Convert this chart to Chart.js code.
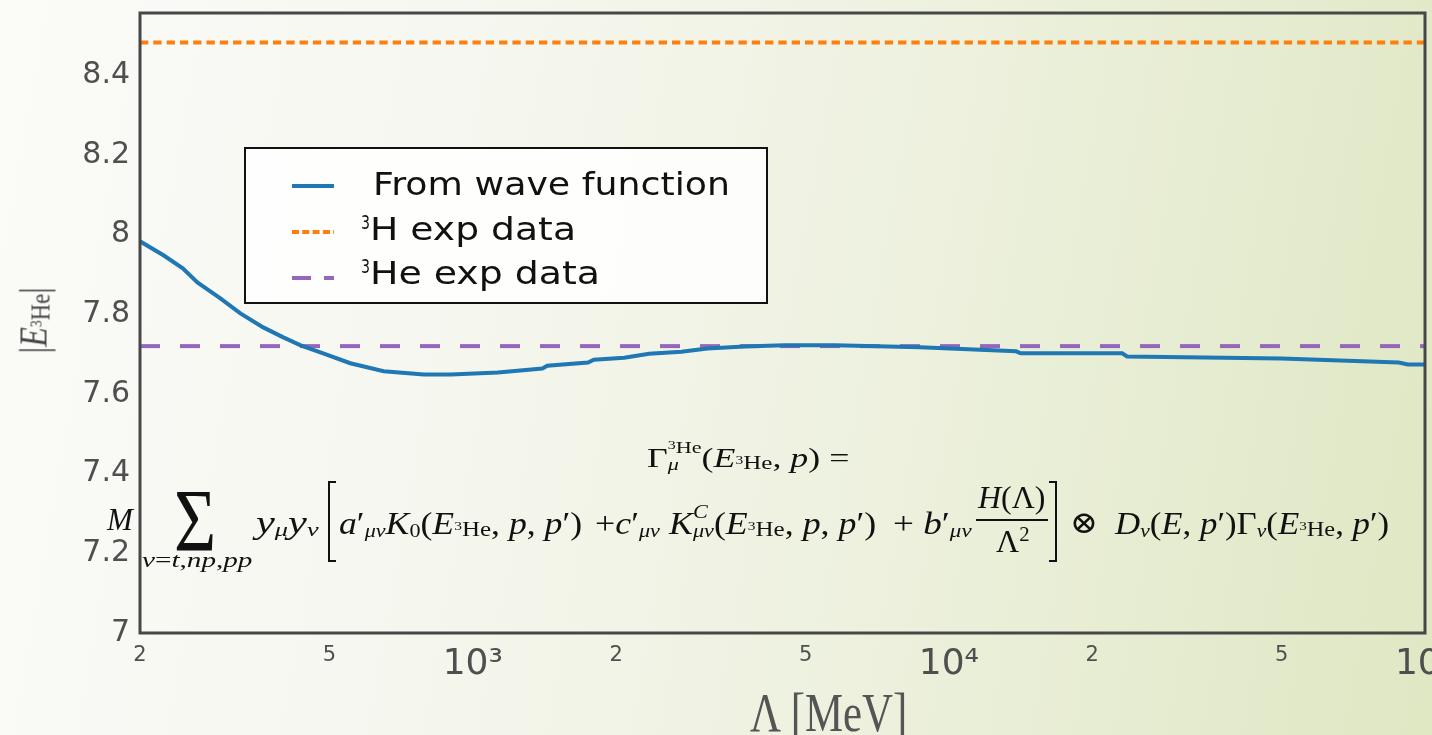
<!DOCTYPE html>
<html><head><meta charset="utf-8">
<script src="https://cdn.jsdelivr.net/npm/chart.js@4.4.1/dist/chart.umd.min.js"></script>
<style>
html,body{margin:0;padding:0;width:1432px;height:735px;overflow:hidden;}
body{position:relative;background:linear-gradient(100deg,#fbfbf8 0%,#f6f7f0 30%,#edf1de 62%,#dfe7c3 100%);}
#wrap{position:absolute;left:0;top:0;width:1480px;height:760px;}
.blk{position:absolute;left:0;top:0;white-space:nowrap;line-height:1;transform-origin:0 0;font-family:'Liberation Serif','DejaVu Serif',serif;color:#111;z-index:5;}
.mk{display:inline-block;width:0;height:0;vertical-align:baseline;}
.sb{font-size:0.62em;vertical-align:-0.16em;}
.E3{font-size:0.7em;vertical-align:-0.1em;}
.t3{font-size:0.62em;vertical-align:0.45em;}
.t3b{font-size:0.72em;vertical-align:0.35em;}
.stk{display:inline-block;font-size:0.62em;line-height:1;vertical-align:-0.16em;text-align:left;}
.stk .ln{display:block;}
.sp{font-size:0.65em;vertical-align:0.55em;}
.brk{position:absolute;border:2px solid #111;z-index:5;}
.bar{position:absolute;height:2px;background:#111;z-index:5;}
</style></head>
<body>
<div id="wrap"><canvas id="c"></canvas></div>

<!-- formula -->
<div class="blk" data-l="647" data-r="850" data-b="467" style="font-size:27px"><span class="mk"></span>Γ<span class="stk"><span class="ln"><span class="t3b">3</span>He</span><span class="ln"><i>μ</i></span></span>(<i>E</i><span class="E3"><span class="t3">3</span>He</span>, <i>p</i>) =</div>
<div class="blk" data-l="107" data-r="133" data-b="530" style="font-size:31px"><span class="mk"></span><i>M</i></div>
<div class="blk" data-l="174" data-r="216" data-b="550" style="font-size:88px"><span class="mk"></span>Σ</div>
<div class="blk" data-l="142" data-r="252" data-b="567" style="font-size:22px"><span class="mk"></span><i>ν</i>=<i>t</i>,<i>np</i>,<i>pp</i></div>
<div class="blk" data-l="256" data-r="319" data-b="533" style="font-size:31px"><span class="mk"></span><i>y</i><span class="sb"><i>μ</i></span><i>y</i><span class="sb"><i>ν</i></span></div>
<div class="brk" style="left:328px;top:481px;width:6px;height:77px;border-right:none;"></div>
<div class="blk" data-l="339" data-r="582" data-b="534" style="font-size:31px"><span class="mk"></span><i>a</i>′<span class="sb"><i>μν</i></span><i>K</i><span class="sb">0</span>(<i>E</i><span class="E3"><span class="t3">3</span>He</span>, <i>p</i>, <i>p</i>′)</div>
<div class="blk" data-l="595" data-r="876" data-b="534" style="font-size:31px"><span class="mk"></span>+<i>c</i>′<span class="sb"><i>μν</i></span> <i>K</i><span class="stk"><span class="ln"><i>C</i></span><span class="ln"><i>μν</i></span></span>(<i>E</i><span class="E3"><span class="t3">3</span>He</span>, <i>p</i>, <i>p</i>′)</div>
<div class="blk" data-l="893" data-r="972" data-b="534" style="font-size:31px"><span class="mk"></span>+ <i>b</i>′<span class="sb"><i>μν</i></span></div>
<div class="blk" data-l="978" data-r="1046" data-b="508" style="font-size:31px"><span class="mk"></span><i>H</i>(Λ)</div>
<div class="bar" style="left:976px;top:519px;width:72px;"></div>
<div class="blk" data-l="996" data-r="1030" data-b="552" style="font-size:31px"><span class="mk"></span>Λ<span class="sp">2</span></div>
<div class="brk" style="left:1049px;top:481px;width:6px;height:77px;border-left:none;"></div>
<div class="blk" data-l="1070" data-r="1098" data-b="533" style="font-size:31px"><span class="mk"></span>⊗</div>
<div class="blk" data-l="1115" data-r="1389" data-b="534" style="font-size:31px"><span class="mk"></span><i>D</i><span class="sb"><i>ν</i></span>(<i>E</i>, <i>p</i>′)Γ<span class="sb"><i>ν</i></span>(<i>E</i><span class="E3"><span class="t3">3</span>He</span>, <i>p</i>′)</div>

<!-- axis titles -->
<div class="blk" data-l="750" data-r="907" data-b="731" style="font-size:54px;color:#555"><span class="mk"></span>Λ [MeV]</div>
<div id="ytitle" class="blk" style="font-size:40px;color:#444"><span class="mk"></span>|<i>E</i><span class="E3"><span class="t3">3</span>He</span>|</div>

<script>
// ---------------- data ----------------
const lambdaMeV = [200, 224, 246, 264, 295, 325, 363, 400, 435, 485, 553, 650, 789, 899, 1129, 1400, 1434, 1746, 1796, 2080, 2346, 2742, 3110, 3719, 4517, 5757, 8694, 13838, 14150, 23120, 23670, 50000, 88050, 92040, 100000];
const energyWF = [7.983, 7.948, 7.915, 7.880, 7.840, 7.802, 7.767, 7.742, 7.722, 7.702, 7.677, 7.657, 7.649, 7.649, 7.654, 7.664, 7.671, 7.679, 7.686, 7.691, 7.701, 7.706, 7.714, 7.719, 7.722, 7.722, 7.717, 7.707, 7.702, 7.702, 7.694, 7.689, 7.679, 7.674, 7.674];
const H3exp = 8.482;
const He3exp = 7.72;
const xRange = [200, 100000];
const yRange = [7, 8.556];
const xTickValues = [200, 500, 1000, 2000, 5000, 10000, 20000, 50000, 100000];
const xTickLabels = ['2', '5', '10³', '2', '5', '10⁴', '2', '5', '10⁵'];
const xMajorTicks = [1000, 10000, 100000];
const yTickValues = [7, 7.2, 7.4, 7.6, 7.8, 8, 8.2, 8.4];
const yTickLabels = ['7', '7.2', '7.4', '7.6', '7.8', '8', '8.2', '8.4'];
const seriesLabels = ['From wave function', '³H exp data', '³He exp data'];
const seriesColors = ['#1f77b4', '#ff7f0e', '#9467bd'];
const seriesDash = [[], [8.3, 5], [20, 20]];
const legendDash = [[], [7, 3.3], [19, 13]];

// ---------------- plugins ----------------
const framePlugin = {
  id: 'frame',
  afterDatasetsDraw(chart) {
    const {ctx, chartArea: a} = chart;
    ctx.save();
    ctx.strokeStyle = '#474747';
    ctx.lineWidth = 3;
    ctx.strokeRect(a.left, a.top, a.right - a.left, a.bottom - a.top);
    ctx.restore();
  }
};
function fitText(ctx, txt, l, r, b, font) {
  ctx.font = font;
  const w = ctx.measureText(txt).width;
  ctx.save();
  ctx.translate(l, b);
  ctx.scale((r - l) / w, 1);
  ctx.fillText(txt, 0, 0);
  ctx.restore();
}
const boxLegend = {
  id: 'boxLegend',
  afterDraw(chart) {
    const ctx = chart.ctx;
    ctx.save();
    ctx.fillStyle = 'rgba(255,255,255,0.85)';
    ctx.fillRect(245, 148, 522, 155);
    ctx.lineWidth = 2;
    ctx.strokeStyle = '#111';
    ctx.strokeRect(245, 148, 522, 155);
    const rows = [186, 232, 278];
    const ends = [730, 576, 600];
    const bases = [195, 240, 284];
    chart.data.datasets.forEach((ds, i) => {
      ctx.beginPath();
      ctx.setLineDash(legendDash[i]);
      ctx.strokeStyle = ds.borderColor;
      ctx.lineWidth = 4;
      ctx.moveTo(292, rows[i]);
      ctx.lineTo(334, rows[i]);
      ctx.stroke();
      ctx.setLineDash([]);
      ctx.fillStyle = '#111';
      ctx.textBaseline = 'alphabetic';
      ctx.textAlign = 'left';
      const lab = ds.label;
      if (lab.startsWith('³')) {
        fitText(ctx, '3', 361, 370, bases[i] - 11, '20px "DejaVu Sans"');
        fitText(ctx, lab.slice(1), 370, ends[i], bases[i], '32px "DejaVu Sans"');
      } else {
        fitText(ctx, lab, 373, ends[i], bases[i], '32px "DejaVu Sans"');
      }
    });
    ctx.restore();
  }
};

// ---------------- chart ----------------
const datasets = [
  {label: seriesLabels[0], data: lambdaMeV.map((x, i) => ({x, y: energyWF[i]})), borderColor: seriesColors[0], borderWidth: 4, borderDash: seriesDash[0]},
  {label: seriesLabels[1], data: [{x: xRange[0], y: H3exp}, {x: xRange[1], y: H3exp}], borderColor: seriesColors[1], borderWidth: 4, borderDash: seriesDash[1]},
  {label: seriesLabels[2], data: [{x: xRange[0], y: He3exp}, {x: xRange[1], y: He3exp}], borderColor: seriesColors[2], borderWidth: 4, borderDash: seriesDash[2]}
].map(d => Object.assign(d, {pointRadius: 0, tension: 0, fill: false, borderCapStyle: 'butt'}));

new Chart(document.getElementById('c'), {
  type: 'line',
  data: {datasets},
  options: {
    responsive: true, maintainAspectRatio: false, animation: false,
    layout: {padding: {left: 0, top: 13, right: 55, bottom: 0}},
    plugins: {legend: {display: false}, tooltip: {enabled: false}},
    scales: {
      x: {
        type: 'logarithmic', min: xRange[0], max: xRange[1],
        grid: {display: false, drawTicks: false}, border: {display: false},
        afterBuildTicks: s => { s.ticks = xTickValues.map(v => ({value: v})); },
        afterFit: s => { s.height = 127; s.paddingLeft = 0; s.paddingRight = 0; },
        ticks: {
          autoSkip: false, maxRotation: 0, minRotation: 0, padding: 10, color: '#4f4f4f',
          font: c => ({family: 'DejaVu Sans', size: (c.tick && xMajorTicks.includes(c.tick.value)) ? 36 : 21}),
          callback: (v, i) => xTickLabels[i]
        }
      },
      y: {
        type: 'linear', min: yRange[0], max: yRange[1],
        grid: {display: false, drawTicks: false}, border: {display: false},
        afterBuildTicks: s => { s.ticks = yTickValues.map(v => ({value: v})); },
        afterFit: s => { s.width = 140; s.paddingTop = 0; s.paddingBottom = 0; },
        ticks: {padding: 10, color: '#4f4f4f', font: {family: 'DejaVu Sans', size: 30}, callback: (v, i) => yTickLabels[i]}
      }
    }
  },
  plugins: [framePlugin, boxLegend]
});

// ---------------- overlay text placement ----------------
function place() {
  document.querySelectorAll('.blk[data-l]').forEach(el => {
    const l = +el.dataset.l, r = +el.dataset.r, b = +el.dataset.b;
    el.style.transform = 'none';
    const mk = el.querySelector('.mk');
    const w = el.offsetWidth;
    el.style.left = l + 'px';
    el.style.top = (b - mk.offsetTop) + 'px';
    el.style.transform = 'scaleX(' + ((r - l) / w) + ')';
  });
  const yt = document.getElementById('ytitle');
  const w = yt.offsetWidth, h = yt.offsetHeight;
  yt.style.transformOrigin = '50% 50%';
  yt.style.left = (34 - w / 2) + 'px';
  yt.style.top = (320 - h / 2) + 'px';
  yt.style.transform = 'rotate(-90deg) scaleX(' + (66 / w) + ')';
}
place();
if (document.fonts && document.fonts.ready) document.fonts.ready.then(place);
</script>
</body></html>
